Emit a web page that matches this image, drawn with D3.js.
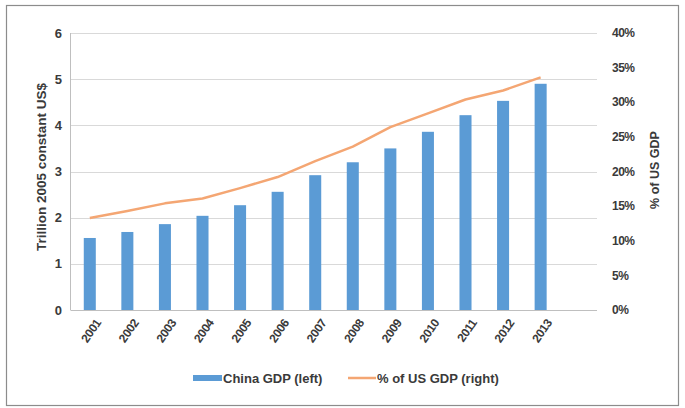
<!DOCTYPE html>
<meta charset="utf-8">
<style>
body { margin: 0; background: #fff; }
text { font-family: "Liberation Sans", Arial, sans-serif; fill: #3a3a3a; }
.grid line { stroke: #d9d9d9; }
</style>
<body>
<script src="https://d3js.org/d3.v7.js"></script>
<script>
// data
var years = ["2001","2002","2003","2004","2005","2006","2007","2008","2009","2010","2011","2012","2013"];
var chinaGdp = [1.56, 1.69, 1.86, 2.04, 2.27, 2.56, 2.92, 3.20, 3.50, 3.86, 4.22, 4.53, 4.90];
var pctUsGdp = [13.3, 14.3, 15.4, 16.1, 17.6, 19.2, 21.5, 23.6, 26.4, 28.4, 30.4, 31.7, 33.6];
var leftTicks = [0, 1, 2, 3, 4, 5, 6];
var rightTicks = [0, 5, 10, 15, 20, 25, 30, 35, 40];

var W = 685, H = 408;
var margin = {top: 33, left: 71, right: 88, bottom: 98};
var width = W - margin.left - margin.right,
    height = H - margin.top - margin.bottom;

var svg = d3.select("body").append("svg")
    .attr("width", W)
    .attr("height", H);

// chart area border
svg.append("rect")
    .attr("x", 6.5).attr("y", 5.5)
    .attr("width", 672).attr("height", 400)
    .attr("fill", "#fff")
    .attr("stroke", "#8c8c8c")
    .attr("stroke-width", 1.2);

var g = svg.append("g")
    .attr("transform", "translate(" + margin.left + "," + margin.top + ")");

// 14 category slots on the axis, data fills the first 13
var step = width / 14;
var x = d3.scaleBand()
    .domain(years)
    .range([0, step * years.length])
    .paddingInner(0.68)
    .paddingOuter(0.34);

var y = d3.scaleLinear().domain([0, 6]).range([height, 0]);
var y2 = d3.scaleLinear().domain([0, 40]).range([height, 0]);

// gridlines
g.append("g").attr("class", "grid")
  .selectAll("line")
  .data(leftTicks.slice(1))
  .enter().append("line")
    .attr("x1", 0).attr("x2", width)
    .attr("y1", function(d) { return Math.round(y(d)) + 0.5; })
    .attr("y2", function(d) { return Math.round(y(d)) + 0.5; });

// bars
g.selectAll(".bar")
    .data(chinaGdp)
  .enter().append("rect")
    .attr("class", "bar")
    .attr("x", function(d, i) { return x(years[i]); })
    .attr("width", x.bandwidth())
    .attr("y", function(d) { return y(d); })
    .attr("height", function(d) { return height - y(d); })
    .attr("fill", "#5b9bd5");

// axes lines
g.append("line")
    .attr("x1", -0.5).attr("x2", -0.5)
    .attr("y1", 0).attr("y2", height)
    .attr("stroke", "#bfbfbf");
g.append("line")
    .attr("x1", -0.5).attr("x2", width)
    .attr("y1", height + 0.5).attr("y2", height + 0.5)
    .attr("stroke", "#bfbfbf");

// line series
var line = d3.line()
    .x(function(d, i) { return x(years[i]) + x.bandwidth() / 2; })
    .y(function(d) { return y2(d); });

g.append("path")
    .datum(pctUsGdp)
    .attr("fill", "none")
    .attr("stroke", "#f4a673")
    .attr("stroke-width", 2.5)
    .attr("stroke-linejoin", "round")
    .attr("d", line);

// left tick labels
g.selectAll(".ltick")
    .data(leftTicks)
  .enter().append("text")
    .attr("x", -9)
    .attr("y", function(d) { return y(d); })
    .attr("dy", "0.35em")
    .attr("text-anchor", "end")
    .style("font-size", "13px")
    .style("font-weight", "bold")
    .text(function(d) { return d; });

// right tick labels
g.selectAll(".rtick")
    .data(rightTicks)
  .enter().append("text")
    .attr("x", width + 15)
    .attr("y", function(d) { return y2(d); })
    .attr("dy", "0.35em")
    .attr("text-anchor", "start")
    .style("font-size", "12px")
    .style("font-weight", "bold")
    .style("letter-spacing", "-0.5px")
    .text(function(d) { return d + "%"; });

// x tick labels
g.selectAll(".xtick")
    .data(years)
  .enter().append("text")
    .attr("transform", function(d) {
      return "translate(" + (x(d) + x.bandwidth() / 2 + 5) + "," + (height + 8) + ") rotate(-55)";
    })
    .attr("text-anchor", "end")
    .attr("dy", "0.7em")
    .style("font-size", "12px")
    .style("font-weight", "bold")
    .style("letter-spacing", "-0.4px")
    .text(function(d) { return d; });

// axis titles
svg.append("text")
    .attr("transform", "translate(41,167) rotate(-90)")
    .attr("text-anchor", "middle")
    .attr("dy", "0.35em")
    .style("font-size", "13.5px")
    .style("font-weight", "bold")
    .text("Trillion 2005 constant US$");

svg.append("text")
    .attr("transform", "translate(655,170) rotate(-90)")
    .attr("text-anchor", "middle")
    .attr("dy", "0.35em")
    .style("font-size", "12.5px")
    .style("font-weight", "bold")
    .text("% of US GDP");

// legend
var legend = svg.append("g").attr("transform", "translate(0,378)");
legend.append("rect")
    .attr("x", 193).attr("y", -3)
    .attr("width", 29).attr("height", 6)
    .attr("fill", "#5b9bd5");
legend.append("text")
    .attr("x", 223).attr("dy", "0.35em")
    .style("font-size", "13px")
    .style("font-weight", "bold")
    .text("China GDP (left)");
legend.append("line")
    .attr("x1", 348).attr("x2", 376)
    .attr("stroke", "#f4a673")
    .attr("stroke-width", 2.5);
legend.append("text")
    .attr("x", 377).attr("dy", "0.35em")
    .style("font-size", "13px")
    .style("font-weight", "bold")
    .text("% of US GDP (right)");
</script>
</body>
